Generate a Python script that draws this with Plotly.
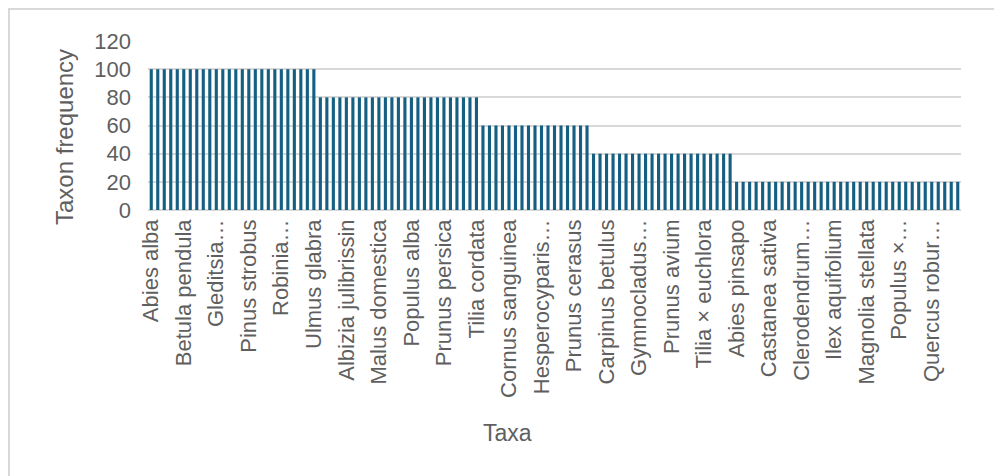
import plotly.graph_objects as go

taxa = [
    # frequency 100
    "Abies alba", "Acer campestre", "Acer platanoides", "Acer pseudoplatanus", "Aesculus hippocastanum",
    "Betula pendula", "Catalpa bignonioides", "Celtis australis", "Fagus sylvatica", "Fraxinus excelsior",
    "Gleditsia triacanthos", "Juglans regia", "Liriodendron tulipifera", "Picea abies", "Pinus nigra",
    "Pinus strobus", "Platanus × acerifolia", "Populus nigra", "Prunus cerasifera", "Quercus rubra",
    "Robinia pseudoacacia", "Salix alba", "Sorbus aucuparia", "Taxus baccata", "Tilia tomentosa",
    "Ulmus glabra",
    # frequency 80
    "Acer negundo", "Acer rubrum", "Acer saccharinum", "Aesculus × carnea",
    "Albizia julibrissin", "Alnus glutinosa", "Cedrus atlantica", "Corylus colurna", "Ginkgo biloba",
    "Malus domestica", "Morus alba", "Paulownia tomentosa", "Pinus sylvestris", "Platanus orientalis",
    "Populus alba", "Populus tremula", "Prunus domestica", "Prunus laurocerasus", "Prunus padus",
    "Prunus persica", "Pyrus calleryana", "Quercus cerris", "Salix babylonica", "Sorbus torminalis",
    "Tilia cordata",
    # frequency 60
    "Acer ginnala", "Acer monspessulanum", "Ailanthus altissima", "Cercis siliquastrum",
    "Cornus sanguinea", "Crataegus monogyna", "Cupressus sempervirens", "Elaeagnus angustifolia", "Fraxinus ornus",
    "Hesperocyparis arizonica", "Koelreuteria paniculata", "Larix decidua", "Magnolia grandiflora", "Ostrya carpinifolia",
    "Prunus cerasus", "Quercus ilex", "Tilia americana",
    # frequency 40
    "Acer saccharum", "Betula utilis",
    "Carpinus betulus", "Cedrus deodara", "Chamaecyparis lawsoniana", "Cornus mas", "Fagus orientalis",
    "Gymnocladus dioicus", "Juniperus virginiana", "Liquidambar styraciflua", "Metasequoia glyptostroboides", "Pinus pinea",
    "Prunus avium", "Pyrus communis", "Quercus petraea", "Salix caprea", "Thuja occidentalis",
    "Tilia × euchlora", "Tilia × europaea", "Ulmus minor", "Ulmus pumila", "Zelkova serrata",
    # frequency 20
    "Abies pinsapo", "Acer cappadocicum", "Acer palmatum", "Amelanchier lamarckii", "Betula pubescens",
    "Castanea sativa", "Catalpa speciosa", "Cedrus libani", "Celtis occidentalis", "Cercidiphyllum japonicum",
    "Clerodendrum trichotomum", "Cornus kousa", "Davidia involucrata", "Eucommia ulmoides", "Halesia carolina",
    "Ilex aquifolium", "Juglans nigra", "Laburnum anagyroides", "Maclura pomifera", "Magnolia kobus",
    "Magnolia stellata", "Malus sylvestris", "Nyssa sylvatica", "Parrotia persica", "Phellodendron amurense",
    "Populus × canadensis", "Prunus serrulata", "Pterocarya fraxinifolia", "Quercus coccinea", "Quercus palustris",
    "Quercus robur 'Fastigiata'", "Salix matsudana", "Sequoiadendron giganteum", "Sorbus intermedia", "Taxodium distichum",
]

frequency = [
    100, 100, 100, 100, 100, 100, 100, 100, 100, 100, 100, 100, 100,
    100, 100, 100, 100, 100, 100, 100, 100, 100, 100, 100, 100, 100,
    80, 80, 80, 80, 80, 80, 80, 80, 80, 80, 80, 80, 80,
    80, 80, 80, 80, 80, 80, 80, 80, 80, 80, 80, 80,
    60, 60, 60, 60, 60, 60, 60, 60, 60, 60, 60, 60, 60, 60, 60, 60, 60,
    40, 40, 40, 40, 40, 40, 40, 40, 40, 40, 40,
    40, 40, 40, 40, 40, 40, 40, 40, 40, 40, 40,
    20, 20, 20, 20, 20, 20, 20, 20, 20, 20, 20, 20,
    20, 20, 20, 20, 20, 20, 20, 20, 20, 20, 20, 20,
    20, 20, 20, 20, 20, 20, 20, 20, 20, 20, 20,
]

shown_labels = [
    "Abies alba", "Betula pendula", "Gleditsia…", "Pinus strobus", "Robinia…",
    "Ulmus glabra", "Albizia julibrissin", "Malus domestica", "Populus alba", "Prunus persica",
    "Tilia cordata", "Cornus sanguinea", "Hesperocyparis…", "Prunus cerasus", "Carpinus betulus",
    "Gymnocladus…", "Prunus avium", "Tilia × euchlora", "Abies pinsapo", "Castanea sativa",
    "Clerodendrum…", "Ilex aquifolium", "Magnolia stellata", "Populus ×…", "Quercus robur…",
]
y_ticks = [0, 20, 40, 60, 80, 100, 120]

FONT = "Liberation Sans, Arial, sans-serif"
GREY = "#5f5f5f"

W, H = 994, 476
L, R, T, B = 148, 33, 41, 266
pw, ph = W - L - R, H - T - B

def px_x(p):
    return (p - L) / pw

def px_y(p):
    return (H - B - p) / ph

fig = go.Figure(go.Bar(
    x=taxa, y=frequency,
    marker=dict(color="#156082", line=dict(width=0)),
    hovertemplate="%{x}: %{y}<extra></extra>",
))

fig.update_layout(
    width=W, height=H,
    margin=dict(l=L, r=R, t=T, b=B),
    paper_bgcolor="white", plot_bgcolor="white",
    bargap=0.52,
    showlegend=False,
    font=dict(family=FONT, color=GREY),
)

fig.update_xaxes(
    type="category",
    tickmode="array",
    tickvals=taxa[::5],
    ticktext=shown_labels,
    tickangle=-90,
    tickfont=dict(size=22, color=GREY, family=FONT),
    ticks="",
    showgrid=False,
    showline=False,
    ticklabelstandoff=4,
)

fig.update_yaxes(
    range=[0, 120],
    tickvals=y_ticks,
    tickfont=dict(size=22, color=GREY, family=FONT),
    showgrid=True, gridcolor="#d9d9d9", gridwidth=1.5,
    zeroline=True, zerolinecolor="#d9d9d9", zerolinewidth=1.5,
    showline=False, ticks="",
    ticklabelstandoff=16,
)

fig.add_annotation(
    text="Taxon frequency", textangle=-90,
    x=px_x(64), y=px_y(137), xref="paper", yref="paper",
    showarrow=False, font=dict(size=24, color=GREY, family=FONT),
    xanchor="center", yanchor="middle",
)
fig.add_annotation(
    text="Taxa",
    x=px_x(507), y=px_y(433), xref="paper", yref="paper",
    showarrow=False, font=dict(size=23, color=GREY, family=FONT),
    xanchor="center", yanchor="middle",
)

fig.add_shape(
    type="rect", xref="paper", yref="paper",
    x0=px_x(9), x1=px_x(1010), y0=px_y(490), y1=px_y(9),
    line=dict(color="#d9d9d9", width=2), fillcolor="rgba(0,0,0,0)", layer="below",
)

fig.write_html("out.html")
